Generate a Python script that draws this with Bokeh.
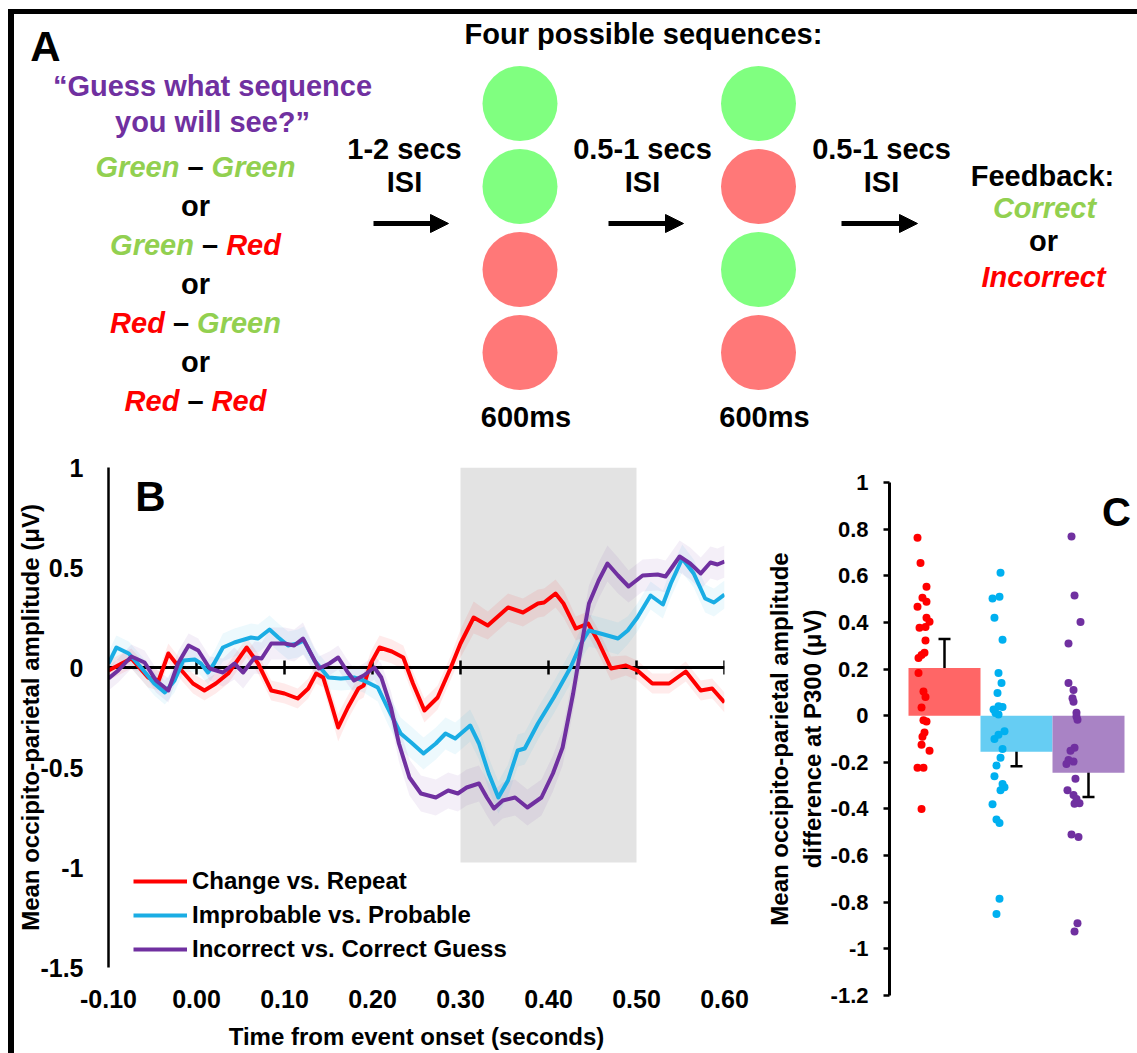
import math
import numpy as np
from bokeh.plotting import figure
from bokeh.models import (Range1d, Label, Arrow, NormalHead, Legend, LegendItem,
                          FixedTicker, Whisker, TeeHead, ColumnDataSource, Div)
from bokeh.layouts import row, column
from bokeh.embed import file_html
from bokeh.resources import INLINE

FONT = "Liberation Sans"

# ---------------- Panel A data ----------------
seq_first = ["green", "green", "red", "red"]
seq_second = ["green", "red", "green", "red"]
stim_fill = {"green": "#80FF80", "red": "#FF7878"}
options = [("Green", "Green"), ("Green", "Red"), ("Red", "Green"), ("Red", "Red")]
word_color = {"Green": "#92D050", "Red": "#FF0000"}
isi_labels = ["1-2 secs", "0.5-1 secs", "0.5-1 secs"]

# ---------------- Panel B data (time in s, amplitude in uV, SEM) ----------------
red_t = [-0.100, -0.085, -0.074, -0.065, -0.055, -0.043, -0.032, -0.017, -0.004, 0.009,
         0.022, 0.036, 0.057, 0.070, 0.085, 0.100, 0.115, 0.127, 0.136, 0.144,
         0.153, 0.161, 0.172, 0.184, 0.190, 0.198, 0.208, 0.222, 0.235, 0.246,
         0.259, 0.274, 0.289, 0.300, 0.315, 0.331, 0.354, 0.371, 0.388, 0.395,
         0.408, 0.417, 0.431, 0.445, 0.456, 0.471, 0.488, 0.501, 0.518, 0.537,
         0.556, 0.573, 0.586, 0.600]
red_v = [-0.015, 0.020, 0.045, 0.000, -0.050, -0.065, 0.070, -0.015, -0.080, -0.115,
         -0.080, -0.030, 0.100, 0.020, -0.115, -0.130, -0.155, -0.105, -0.030, -0.050,
         -0.180, -0.300, -0.200, -0.105, -0.090, 0.020, 0.100, 0.080, 0.050, -0.080,
         -0.215, -0.150, 0.000, 0.120, 0.250, 0.210, 0.300, 0.275, 0.320, 0.325,
         0.370, 0.320, 0.195, 0.220, 0.135, -0.005, 0.010, -0.015, -0.080, -0.080,
         -0.020, -0.115, -0.105, -0.175]
red_se = [0.05, 0.05, 0.05, 0.05, 0.05, 0.05, 0.05, 0.05, 0.05, 0.05,
          0.05, 0.05, 0.05, 0.05, 0.05, 0.05, 0.05, 0.05, 0.05, 0.05,
          0.06, 0.07, 0.06, 0.06, 0.06, 0.06, 0.06, 0.06, 0.06, 0.06,
          0.06, 0.06, 0.06, 0.07, 0.08, 0.07, 0.07, 0.07, 0.07, 0.07,
          0.07, 0.07, 0.06, 0.06, 0.06, 0.06, 0.05, 0.05, 0.05, 0.05,
          0.05, 0.05, 0.05, 0.05]

blue_t = [-0.100, -0.091, -0.077, -0.063, -0.048, -0.036, -0.025, -0.015, -0.002, 0.005,
          0.013, 0.020, 0.030, 0.043, 0.062, 0.070, 0.083, 0.093, 0.104, 0.115,
          0.122, 0.134, 0.150, 0.164, 0.179, 0.190, 0.206, 0.217, 0.232, 0.244,
          0.258, 0.272, 0.283, 0.294, 0.311, 0.321, 0.332, 0.343, 0.354, 0.365,
          0.373, 0.388, 0.406, 0.425, 0.437, 0.446, 0.459, 0.479, 0.490, 0.501,
          0.516, 0.530, 0.539, 0.552, 0.565, 0.578, 0.588, 0.600]
blue_v = [0.020, 0.100, 0.070, 0.000, -0.080, -0.125, -0.065, 0.035, 0.040, 0.020,
          -0.025, 0.020, 0.100, 0.125, 0.150, 0.145, 0.190, 0.150, 0.110, 0.120,
          0.135, 0.035, -0.050, -0.055, -0.050, -0.065, -0.100, -0.200, -0.330, -0.375,
          -0.430, -0.380, -0.330, -0.355, -0.290, -0.380, -0.530, -0.650, -0.565, -0.415,
          -0.405, -0.280, -0.150, 0.000, 0.120, 0.185, 0.170, 0.145, 0.185, 0.250,
          0.360, 0.315, 0.420, 0.545, 0.470, 0.345, 0.325, 0.365]
blue_se = [0.06, 0.06, 0.06, 0.06, 0.06, 0.06, 0.06, 0.06, 0.06, 0.06,
           0.06, 0.06, 0.07, 0.07, 0.07, 0.07, 0.07, 0.07, 0.07, 0.07,
           0.07, 0.06, 0.06, 0.06, 0.06, 0.06, 0.07, 0.08, 0.08, 0.08,
           0.08, 0.08, 0.08, 0.08, 0.08, 0.08, 0.08, 0.08, 0.08, 0.08,
           0.08, 0.08, 0.08, 0.08, 0.08, 0.08, 0.08, 0.08, 0.07, 0.07,
           0.07, 0.07, 0.07, 0.07, 0.07, 0.07, 0.07, 0.07]

purple_t = [-0.100, -0.089, -0.074, -0.059, -0.046, -0.032, -0.021, -0.009, 0.002, 0.015,
            0.030, 0.043, 0.053, 0.066, 0.074, 0.085, 0.100, 0.111, 0.121, 0.130,
            0.139, 0.151, 0.161, 0.172, 0.179, 0.190, 0.202, 0.210, 0.221, 0.230,
            0.242, 0.255, 0.272, 0.286, 0.297, 0.307, 0.321, 0.330, 0.338, 0.348,
            0.362, 0.376, 0.392, 0.405, 0.416, 0.428, 0.433, 0.439, 0.446, 0.457,
            0.467, 0.479, 0.491, 0.507, 0.524, 0.533, 0.549, 0.561, 0.573, 0.584,
            0.592, 0.600]
purple_v = [-0.055, -0.015, 0.055, 0.025, -0.065, -0.115, 0.020, 0.110, 0.085, -0.005,
            -0.025, 0.020, -0.025, 0.050, 0.045, 0.120, 0.120, 0.110, 0.145, 0.070,
            -0.005, 0.020, 0.050, -0.025, -0.065, -0.040, 0.000, -0.050, -0.200, -0.380,
            -0.550, -0.630, -0.650, -0.615, -0.630, -0.600, -0.580, -0.650, -0.705, -0.665,
            -0.650, -0.700, -0.650, -0.530, -0.400, -0.130, 0.000, 0.150, 0.320, 0.435,
            0.520, 0.460, 0.405, 0.460, 0.465, 0.455, 0.555, 0.520, 0.470, 0.525,
            0.515, 0.530]
purple_se = [0.06, 0.06, 0.06, 0.06, 0.06, 0.06, 0.06, 0.06, 0.06, 0.06,
             0.07, 0.08, 0.08, 0.08, 0.08, 0.08, 0.08, 0.08, 0.08, 0.07,
             0.06, 0.06, 0.06, 0.06, 0.06, 0.06, 0.06, 0.07, 0.08, 0.09,
             0.09, 0.09, 0.09, 0.09, 0.09, 0.09, 0.09, 0.09, 0.09, 0.09,
             0.09, 0.09, 0.09, 0.09, 0.09, 0.09, 0.09, 0.09, 0.09, 0.09,
             0.09, 0.09, 0.08, 0.08, 0.08, 0.08, 0.08, 0.08, 0.08, 0.08,
             0.08, 0.08]

series_names = ["Change vs. Repeat", "Improbable vs. Probable", "Incorrect vs. Correct Guess"]
series_colors = ["#FF0000", "#1AADE4", "#7030A0"]

b_xticks = [-0.1, 0.0, 0.1, 0.2, 0.3, 0.4, 0.5, 0.6]
b_xtick_labels = ["-0.10", "0.00", "0.10", "0.20", "0.30", "0.40", "0.50", "0.60"]
b_yticks = [-1.5, -1.0, -0.5, 0.0, 0.5, 1.0]
b_ytick_labels = ["-1.5", "-1", "-0.5", "0", "0.5", "1"]
p300_window = [0.3, 0.5]

# ---------------- Panel C data ----------------
c_groups = [1, 2, 3]
c_means = [0.205, -0.155, -0.245]
c_lower = [0.094, -0.217, -0.349]
c_upper = [0.329, -0.086, -0.129]
c_bar_colors = ["#FF6666", "#66CDF3", "#A983C5"]
c_dot_colors = ["#FF0000", "#00B0F0", "#7030A0"]

red_pts = [0.763, 0.655, 0.553, 0.506, 0.489, 0.467, 0.420, 0.403, 0.377, 0.380,
           0.322, 0.270, 0.260, 0.247, 0.183, 0.104, 0.080, 0.035, -0.020, -0.025,
           -0.072, -0.090, -0.125, -0.150, -0.223, -0.223, -0.400]
red_jit = [-0.375, -0.333, -0.25, -0.306, -0.25, -0.375, -0.25, -0.208, -0.347, -0.264,
           -0.264, -0.278, -0.319, -0.361, -0.361, -0.292, -0.264, -0.319, -0.292, -0.25,
           -0.278, -0.306, -0.319, -0.208, -0.375, -0.292, -0.319]
blue_pts = [0.613, 0.503, 0.510, 0.420, 0.326, 0.183, 0.140, 0.097, 0.040, 0.037,
            0.026, 0.012, 0.005, -0.067, -0.082, -0.100, -0.143, -0.180, -0.214, -0.260,
            -0.293, -0.307, -0.320, -0.380, -0.445, -0.460, -0.785, -0.850]
blue_jit = [-0.222, -0.333, -0.236, -0.306, -0.194, -0.25, -0.208, -0.264, -0.25, -0.194,
            -0.319, -0.292, -0.25, -0.167, -0.25, -0.306, -0.194, -0.222, -0.278, -0.306,
            -0.194, -0.167, -0.222, -0.333, -0.278, -0.236, -0.236, -0.278]
purple_pts = [0.768, 0.515, 0.402, 0.310, 0.140, 0.110, 0.075, 0.060, 0.013, -0.003,
              -0.017, -0.138, -0.150, -0.190, -0.197, -0.207, -0.270, -0.320, -0.340, -0.357,
              -0.375, -0.378, -0.510, -0.520, -0.890, -0.925]
purple_jit = [-0.236, -0.194, -0.111, -0.278, -0.278, -0.208, -0.222, -0.208, -0.167, -0.167,
              -0.153, -0.194, -0.25, -0.278, -0.208, -0.306, -0.181, -0.292, -0.208, -0.167,
              -0.125, -0.194, -0.236, -0.139, -0.153, -0.194]
c_yticks = [-1.2, -1.0, -0.8, -0.6, -0.4, -0.2, 0.0, 0.2, 0.4, 0.6, 0.8, 1.0]
c_ytick_labels = ["-1.2", "-1", "-0.8", "-0.6", "-0.4", "-0.2", "0", "0.2", "0.4", "0.6", "0.8", "1"]

# ---------------- helpers ----------------
# Arial/Liberation Sans Bold advance widths (em)
W = {"G": .778, "r": .389, "e": .556, "n": .611, "R": .722, "d": .611, " ": .278, "\u2013": .556}
BASE_SHIFT = 0.4  # empirical correction of the rendered alphabetic baseline (em)


def tw(text, size):
    return sum(W.get(ch, 0.556) for ch in text) * size


def lab(p, x, y, text, size, color="black", style="bold", align="center"):
    p.add_layout(Label(x=x, y=y, text=text, text_font=FONT, text_font_size=f"{size}px",
                       text_font_style=style, text_color=color, text_align=align,
                       text_baseline="alphabetic"))


# ================= Panel A (page-pixel coordinates) =================
pa = figure(width=1123, height=436, x_range=Range1d(14, 1137), y_range=Range1d(450, 14),
            output_backend="svg", toolbar_location=None, tools="", title=None,
            x_axis_location=None, y_axis_location=None, min_border=0,
            outline_line_color=None)
pa.grid.visible = False


def alab(x, ybase, text, size, **kw):
    lab(pa, x, ybase - BASE_SHIFT * size, text, size, **kw)


col_x = [519.5, 758.0]
row_y = [103.0, 186.0, 269.0, 352.0]
for cxp, seq in zip(col_x, [seq_first, seq_second]):
    pa.circle(x=[cxp] * len(seq), y=row_y, radius=37.5,
              fill_color=[stim_fill[s] for s in seq], line_color=None)
    alab(cxp + 6, 428, "600ms", 29)

alab(45, 63, "A", 42)
alab(643, 45, "Four possible sequences:", 29)
alab(212, 97, "\u201cGuess what sequence", 29, color="#7030A0")
alab(212, 133, "you will see?\u201d", 29, color="#7030A0")

opt_base = [178, 256, 334, 412]
SZ = 29
for (w1, w2), yb in zip(options, opt_base):
    parts = [(w1, word_color[w1], "bold italic"), (" ", None, None),
             ("\u2013", "black", "bold"), (" ", None, None),
             (w2, word_color[w2], "bold italic")]
    total = sum(tw(t, SZ) for t, _, _ in parts)
    x = 195 - total / 2
    for t, col, sty in parts:
        if col is not None:
            alab(x, yb, t, SZ, color=col, style=sty, align="left")
        x += tw(t, SZ)
for yb in [217, 295, 373]:
    alab(195, yb, "or", SZ)

isi_x = [404, 642, 881]
arrow_x = [(373, 448), (608, 683), (841, 917)]
for cxp, txt, (xs, xe) in zip(isi_x, isi_labels, arrow_x):
    alab(cxp, 160, txt, SZ)
    alab(cxp, 193, "ISI", SZ)
    pa.add_layout(Arrow(x_start=xs, y_start=223, x_end=xe, y_end=223, line_width=5,
                        line_color="black",
                        end=NormalHead(size=18, fill_color="black", line_color="black")))

alab(1042, 187, "Feedback:", SZ)
alab(1044, 219, "Correct", SZ, color="#92D050", style="bold italic")
alab(1043, 252, "or", SZ)
alab(1043, 288, "Incorrect", SZ, color="#FF0000", style="bold italic")

# ================= Panel B =================
pb = figure(width=746, height=603, x_range=Range1d(-0.1, 0.6), y_range=Range1d(-1.5, 1.0),
            output_backend="svg", toolbar_location=None, tools="", title=None,
            min_border_left=93, min_border_right=36, min_border_top=17, min_border_bottom=86,
            outline_line_color=None, frame_align=False)
pb.grid.visible = False


def bx(px):
    return -0.1 + (px - 107) / (617 / 0.7)


def by(py):
    return (667 - py) / 200.0


pb.quad(left=[p300_window[0]], right=[p300_window[1]], bottom=[-0.975], top=[1.0],
        fill_color="#E3E3E3", line_color=None)

data = [(red_t, red_v, red_se), (blue_t, blue_v, blue_se), (purple_t, purple_v, purple_se)]
for (t, v, se), col in zip(data, series_colors):
    t, v, se = np.array(t), np.array(v), np.array(se)
    pb.varea(x=t, y1=v - se, y2=v + se, fill_color=col, fill_alpha=0.08)

# zero line with ticks
pb.line(x=[b_xticks[0], b_xticks[-1]], y=[0, 0], line_color="black", line_width=3)
tick_t = [t for t in b_xticks if t > b_xticks[0]]
pb.segment(x0=tick_t, y0=[-0.035] * len(tick_t), x1=tick_t, y1=[0.035] * len(tick_t),
           line_color="black", line_width=2.5)

renderers = []
for (t, v, se), col in zip(data, series_colors):
    r = pb.line(x=t, y=v, line_color=col, line_width=4, line_join="round")
    renderers.append(r)

legend = Legend(items=[LegendItem(label=n, renderers=[r]) for n, r in zip(series_names, renderers)],
                location=(25, 3), padding=0, margin=0, spacing=4,
                glyph_width=54, glyph_height=30, label_height=30, label_standoff=5,
                label_text_font=FONT, label_text_font_size="24px", label_text_font_style="bold",
                label_text_color="black",
                border_line_color=None, background_fill_alpha=0)
pb.add_layout(legend)

pb.xaxis.ticker = FixedTicker(ticks=b_xticks)
pb.xaxis.major_label_overrides = dict(zip(b_xticks, b_xtick_labels))
pb.xaxis.axis_line_color = None
pb.xaxis.major_tick_in = 0
pb.xaxis.major_tick_out = 0
pb.xaxis.minor_tick_in = 0
pb.xaxis.minor_tick_out = 0
pb.xaxis.major_label_standoff = 22
pb.xaxis.axis_label = "Time from event onset (seconds)"
pb.xaxis.axis_label_standoff = 12

pb.yaxis.ticker = FixedTicker(ticks=b_yticks)
pb.yaxis.major_label_overrides = dict(zip(b_yticks, b_ytick_labels))
pb.yaxis.axis_line_width = 2.5
pb.yaxis.axis_line_color = "black"
pb.yaxis.major_tick_in = 0
pb.yaxis.major_tick_out = 0
pb.yaxis.minor_tick_in = 0
pb.yaxis.minor_tick_out = 0
pb.yaxis.major_label_standoff = 25
pb.yaxis.axis_label = "Mean occipito-parietal amplitude (\u03bcV)"
pb.yaxis.axis_label_standoff = -7

for ax in (pb.xaxis[0], pb.yaxis[0]):
    ax.major_label_text_font = FONT
    ax.major_label_text_font_size = "25px"
    ax.major_label_text_font_style = "bold"
    ax.major_label_text_color = "black"
    ax.axis_label_text_font = FONT
    ax.axis_label_text_font_size = "24px"
    ax.axis_label_text_font_style = "bold"
    ax.axis_label_text_color = "black"

lab(pb, bx(149), by(513 - BASE_SHIFT * 42), "B", 42)

# ================= Panel C =================
pc = figure(width=377, height=603, x_range=Range1d(1 - 55 / 72, 1 - 55 / 72 + 248 / 72),
            y_range=Range1d(-1.2, 1.0), output_backend="svg", toolbar_location=None, tools="",
            title=None, x_axis_location=None, min_border_left=129, min_border_right=0,
            min_border_top=32, min_border_bottom=58, outline_line_color=None,
            frame_align=False)
pc.grid.visible = False


def cx(px):
    return 1 + (px - 944) / 72.0


def cy(py):
    return (716 - py) / (513 / 2.2)


pc.vbar(x=c_groups, width=1.0, top=c_means, bottom=0, fill_color=c_bar_colors, line_color=None)
for g, pts, jit, col in zip(c_groups, [red_pts, blue_pts, purple_pts],
                            [red_jit, blue_jit, purple_jit], c_dot_colors):
    pc.scatter(x=[g + j for j in jit], y=pts, size=8, fill_color=col, line_color=None)

src = ColumnDataSource(dict(base=c_groups, lower=c_lower, upper=c_upper))
pc.add_layout(Whisker(base="base", lower="lower", upper="upper", source=src,
                      line_width=2.5, line_color="black",
                      upper_head=TeeHead(size=12, line_width=2.5, line_color="black"),
                      lower_head=TeeHead(size=12, line_width=2.5, line_color="black")))

pc.yaxis.ticker = FixedTicker(ticks=c_yticks)
pc.yaxis.major_label_overrides = dict(zip(c_yticks, c_ytick_labels))
pc.yaxis.axis_line_width = 3
pc.yaxis.axis_line_color = "black"
pc.yaxis.major_tick_in = 0
pc.yaxis.major_tick_out = 6
pc.yaxis.major_tick_line_width = 2.5
pc.yaxis.minor_tick_in = 0
pc.yaxis.minor_tick_out = 0
pc.yaxis.major_label_standoff = 15
pc.yaxis.major_label_text_font = FONT
pc.yaxis.major_label_text_font_size = "22px"
pc.yaxis.major_label_text_font_style = "bold"
pc.yaxis.major_label_text_color = "black"
pc.yaxis.axis_label = "Mean occipito-parietal amplitude\ndifference at P300 (\u03bcV)"
pc.yaxis.axis_label_standoff = 2
pc.yaxis.axis_label_text_font = FONT
pc.yaxis.axis_label_text_font_size = "24px"
pc.yaxis.axis_label_text_font_style = "bold"
pc.yaxis.axis_label_text_color = "black"

lab(pc, cx(1116), cy(528 - BASE_SHIFT * 40), "C", 40)

# ================= Layout =================
top_spacer = Div(width=1137, height=9, margin=0)
left_space = Div(width=8, height=1044, margin=0)
left_bar = Div(width=6, height=1044, margin=0, styles={"background-color": "black"})
top_bar = Div(width=1123, height=5, margin=0, styles={"background-color": "black"})
for f in (pa, pb, pc):
    f.margin = 0
inner = column(top_bar, pa, row(pb, pc, spacing=0), spacing=0)
root = column(top_spacer, row(left_space, left_bar, inner, spacing=0), spacing=0)

open("out.html", "w").write(file_html(root, INLINE))
